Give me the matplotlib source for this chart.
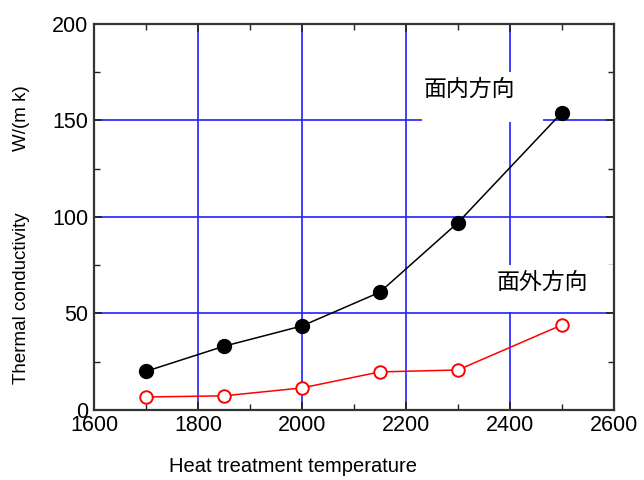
import matplotlib.pyplot as plt
from matplotlib.patches import Rectangle

# heat treatment temperature vs thermal conductivity
temp = [1700, 1850, 2000, 2150, 2300, 2500]
in_plane = [20, 33, 43.5, 61, 97, 154]
out_plane = [6.7, 7.3, 11.4, 19.7, 20.7, 44]

plt.rcParams['font.family'] = ['Liberation Sans', 'DejaVu Sans']
cjk = ['Noto Sans CJK JP', 'DejaVu Sans']

fig = plt.figure(figsize=(6.44, 4.8), dpi=100)
ax = fig.add_axes([0.146, 0.146, 0.807, 0.804])

ax.plot(temp, in_plane, '-', color='black', lw=1.1, marker='o',
        markersize=10, markerfacecolor='black', markeredgecolor='black', zorder=5)
ax.plot(temp, out_plane, '-', color='red', lw=1.1, marker='o',
        markersize=9, markerfacecolor='white', markeredgecolor='red',
        markeredgewidth=1.4, zorder=5)

ax.set_xlim(1600, 2600)
ax.set_ylim(0, 200)
ax.set_xticks([1600, 1800, 2000, 2200, 2400, 2600])
ax.set_xticks([1700, 1900, 2100, 2300, 2500], minor=True)
ax.set_yticks([0, 50, 100, 150, 200])
ax.set_yticks([25, 75, 125, 175], minor=True)

ax.set_axisbelow(True)
ax.grid(True, which='major', color='#2020ff', lw=1.2)

ax.tick_params(which='both', direction='in', top=True, right=True,
               labelsize=15.5, color='#222222')
ax.tick_params(which='major', length=6, width=1.2, pad=4)
ax.tick_params(which='minor', length=4, width=1.0)
for s in ax.spines.values():
    s.set_linewidth(1.6)
    s.set_color('#333333')

fig.text(0.455, 0.029, 'Heat treatment temperature', fontsize=14.5,
         ha='center', va='center')
fig.text(0.034, 0.379, 'Thermal conductivity', rotation=90, fontsize=13.5,
         ha='center', va='center')
fig.text(0.034, 0.754, 'W/(m k)', rotation=90, fontsize=13.5,
         ha='center', va='center')

# white label backgrounds hiding the grid behind the labels
for x0, y0, w, h in [(0.631, 0.746, 0.232, 0.130), (0.762, 0.254, 0.236, 0.122)]:
    ax.add_patch(Rectangle((x0, y0), w, h, transform=ax.transAxes,
                           facecolor='white', edgecolor='none', zorder=2))
ax.text(2323, 166, '面内方向', family=cjk, fontsize=16.5,
        ha='center', va='center', zorder=3)
ax.text(2462, 66, '面外方向', family=cjk, fontsize=16.5,
        ha='center', va='center', zorder=3)

plt.savefig('out.png', dpi=100)
